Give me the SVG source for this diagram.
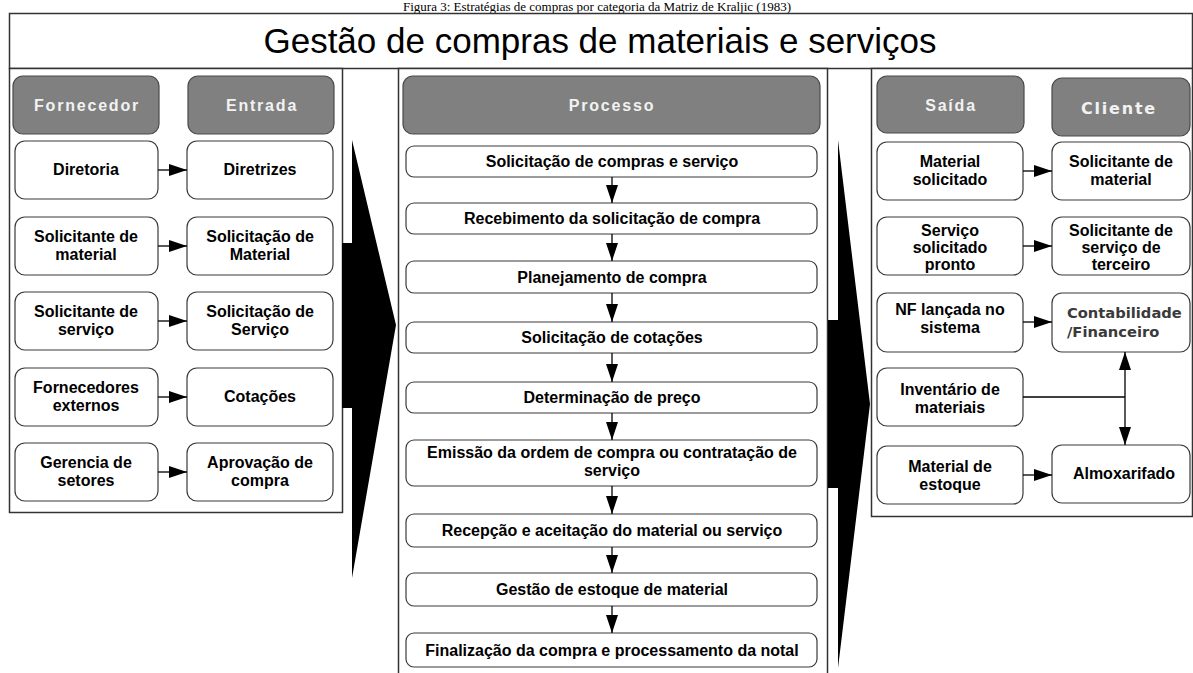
<svg xmlns="http://www.w3.org/2000/svg" width="1193" height="673" viewBox="0 0 1193 673">
<style>
.panel{fill:#fff;stroke:#333;stroke-width:1.5}
.hdr{fill:#808080;stroke:#4a4a4a;stroke-width:1.2}
.box{fill:#fff;stroke:#3a3a3a;stroke-width:1.2}
.t{font-family:"Liberation Sans",Arial,sans-serif;font-weight:bold;font-size:16px;fill:#000;text-anchor:middle}
.ht{font-family:"Liberation Sans",Arial,sans-serif;font-weight:bold;font-size:16px;fill:#f2f2f2;letter-spacing:1.8px;text-anchor:middle}
.vt{font-family:"DejaVu Sans",Verdana,sans-serif;font-weight:bold}
.ln{stroke:#000;stroke-width:1.3;fill:none}
.big{fill:#000}
</style>
<defs>
<marker id="ah" markerUnits="userSpaceOnUse" markerWidth="18" markerHeight="12" refX="18" refY="6" orient="auto">
<path d="M0,0 L18,6 L0,12 z" fill="#000"/>
</marker>
</defs>
<rect width="1193" height="673" fill="#fff"/>
<text x="597" y="11" font-family="Liberation Serif,Times New Roman,serif" font-size="13" text-anchor="middle" fill="#000">Figura 3: Estratégias de compras por categoria da Matriz de Kraljic (1983)</text>
<g id="title">
<rect x="9.5" y="13.5" width="1183" height="55" fill="#fff" stroke="#333" stroke-width="1.5"/>
<text x="600" y="53" font-family="Liberation Sans,Arial,sans-serif" font-size="35" text-anchor="middle" fill="#000">Gestão de compras de materiais e serviços</text>
</g>
<rect class="panel" x="9.5" y="68.5" width="333" height="444"/>
<rect class="panel" x="398.5" y="68.5" width="429" height="620"/>
<rect class="panel" x="871.5" y="68.5" width="321" height="448"/>
<g id="bigarrows">
<polygon class="big" points="342,243 352,243 352,140 396,325 352,578 352,408 342,408"/>
<polygon class="big" points="828,320 838,320 838,140 870,404 838,668 838,488 828,488"/>
</g>
<g id="h-fornecedor"><rect class="hdr" x="13" y="76" width="146" height="58" rx="10"/><text class="ht" x="87" y="111">Fornecedor</text></g>
<g id="h-entrada"><rect class="hdr" x="188" y="76" width="146" height="58" rx="10"/><text class="ht" x="262" y="111">Entrada</text></g>
<g id="h-processo"><rect class="hdr" x="403" y="76" width="417" height="58" rx="10"/><text class="ht" x="612" y="111">Processo</text></g>
<g id="h-saida"><rect class="hdr" x="877" y="76" width="147" height="57" rx="10"/><text class="ht" x="951" y="111">Saída</text></g>
<g id="h-cliente"><rect class="hdr" x="1052" y="78" width="138" height="58" rx="10"/><text class="ht vt" x="1119" y="114" font-size="16" letter-spacing="2.5">Cliente</text></g>

<g id="f1"><rect class="box" x="15" y="141" width="143" height="58" rx="10"/><text class="t" x="86" y="175">Diretoria</text></g>
<g id="e1"><rect class="box" x="187" y="141" width="146" height="58" rx="10"/><text class="t" x="260" y="175">Diretrizes</text></g>
<g id="f2"><rect class="box" x="15" y="217" width="143" height="58" rx="10"/><text class="t" x="86" y="242">Solicitante de</text><text class="t" x="86" y="260">material</text></g>
<g id="e2"><rect class="box" x="187" y="217" width="146" height="58" rx="10"/><text class="t" x="260" y="242">Solicitação de</text><text class="t" x="260" y="260">Material</text></g>
<g id="f3"><rect class="box" x="15" y="292" width="143" height="58" rx="10"/><text class="t" x="86" y="317">Solicitante de</text><text class="t" x="86" y="335">serviço</text></g>
<g id="e3"><rect class="box" x="187" y="292" width="146" height="58" rx="10"/><text class="t" x="260" y="317">Solicitação de</text><text class="t" x="260" y="335">Serviço</text></g>
<g id="f4"><rect class="box" x="15" y="368" width="143" height="58" rx="10"/><text class="t" x="86" y="393">Fornecedores</text><text class="t" x="86" y="411">externos</text></g>
<g id="e4"><rect class="box" x="187" y="368" width="146" height="58" rx="10"/><text class="t" x="260" y="402">Cotações</text></g>
<g id="f5"><rect class="box" x="15" y="443" width="143" height="58" rx="10"/><text class="t" x="86" y="468">Gerencia de</text><text class="t" x="86" y="486">setores</text></g>
<g id="e5"><rect class="box" x="187" y="443" width="146" height="58" rx="10"/><text class="t" x="260" y="468">Aprovação de</text><text class="t" x="260" y="486">compra</text></g>

<g id="p1"><rect class="box" x="406" y="146" width="411" height="31" rx="8"/><text class="t" x="612" y="167">Solicitação de compras e serviço</text></g>
<g id="p2"><rect class="box" x="406" y="203" width="411" height="31" rx="8"/><text class="t" x="612" y="224">Recebimento da solicitação de compra</text></g>
<g id="p3"><rect class="box" x="406" y="261" width="411" height="32" rx="8"/><text class="t" x="612" y="283">Planejamento de compra</text></g>
<g id="p4"><rect class="box" x="406" y="322" width="411" height="31" rx="8"/><text class="t" x="612" y="343">Solicitação de cotações</text></g>
<g id="p5"><rect class="box" x="406" y="382" width="411" height="31" rx="8"/><text class="t" x="612" y="403">Determinação de preço</text></g>
<g id="p6"><rect class="box" x="406" y="440" width="411" height="46" rx="8"/><text class="t" x="612" y="458">Emissão da ordem de compra ou contratação de</text><text class="t" x="612" y="476">serviço</text></g>
<g id="p7"><rect class="box" x="406" y="514" width="411" height="33" rx="8"/><text class="t" x="612" y="536">Recepção e aceitação do material ou serviço</text></g>
<g id="p8"><rect class="box" x="406" y="573" width="411" height="33" rx="8"/><text class="t" x="612" y="595">Gestão de estoque de material</text></g>
<g id="p9"><rect class="box" x="406" y="633" width="411" height="34" rx="8"/><text class="t" x="612" y="656">Finalização da compra e processamento da notal</text></g>

<g id="s1"><rect class="box" x="877" y="142" width="146" height="58" rx="10"/><text class="t" x="950" y="167">Material</text><text class="t" x="950" y="185">solicitado</text></g>
<g id="c1"><rect class="box" x="1052" y="142" width="138" height="58" rx="10"/><text class="t" x="1121" y="167">Solicitante de</text><text class="t" x="1121" y="185">material</text></g>
<g id="s2"><rect class="box" x="877" y="217" width="146" height="58" rx="10"/><text class="t" x="950" y="236">Serviço</text><text class="t" x="950" y="253">solicitado</text><text class="t" x="950" y="270">pronto</text></g>
<g id="c2"><rect class="box" x="1052" y="217" width="138" height="58" rx="10"/><text class="t" x="1121" y="236">Solicitante de</text><text class="t" x="1121" y="253">serviço de</text><text class="t" x="1121" y="270">terceiro</text></g>
<g id="s3"><rect class="box" x="877" y="293" width="146" height="59" rx="10"/><text class="t" x="950" y="315">NF lançada no</text><text class="t" x="950" y="333">sistema</text></g>
<g id="c3"><rect class="box" x="1052" y="293" width="138" height="59" rx="10"/><text class="vt" x="1067" y="318" font-size="14.7" fill="#3a3a3a">Contabilidade</text><text class="vt" x="1067" y="337" font-size="14.7" fill="#3a3a3a">/Financeiro</text></g>
<g id="s4"><rect class="box" x="877" y="368" width="146" height="58" rx="10"/><text class="t" x="950" y="395">Inventário de</text><text class="t" x="950" y="413">materiais</text></g>
<g id="s5"><rect class="box" x="877" y="446" width="146" height="58" rx="10"/><text class="t" x="950" y="472">Material de</text><text class="t" x="950" y="490">estoque</text></g>
<g id="c5"><rect class="box" x="1052" y="445" width="138" height="58" rx="10"/><text class="t" x="1124" y="479">Almoxarifado</text></g>

<g id="connectors">
<line class="ln" x1="158" y1="170" x2="187" y2="170" marker-end="url(#ah)"/>
<line class="ln" x1="158" y1="246" x2="187" y2="246" marker-end="url(#ah)"/>
<line class="ln" x1="158" y1="321" x2="187" y2="321" marker-end="url(#ah)"/>
<line class="ln" x1="158" y1="397" x2="187" y2="397" marker-end="url(#ah)"/>
<line class="ln" x1="158" y1="472" x2="187" y2="472" marker-end="url(#ah)"/>
<line class="ln" x1="612" y1="177" x2="612" y2="203" marker-end="url(#ah)"/>
<line class="ln" x1="612" y1="234" x2="612" y2="261" marker-end="url(#ah)"/>
<line class="ln" x1="612" y1="293" x2="612" y2="322" marker-end="url(#ah)"/>
<line class="ln" x1="612" y1="353" x2="612" y2="382" marker-end="url(#ah)"/>
<line class="ln" x1="612" y1="413" x2="612" y2="440" marker-end="url(#ah)"/>
<line class="ln" x1="612" y1="486" x2="612" y2="514" marker-end="url(#ah)"/>
<line class="ln" x1="612" y1="547" x2="612" y2="573" marker-end="url(#ah)"/>
<line class="ln" x1="612" y1="606" x2="612" y2="633" marker-end="url(#ah)"/>
<line class="ln" x1="1023" y1="171" x2="1052" y2="171" marker-end="url(#ah)"/>
<line class="ln" x1="1023" y1="246" x2="1052" y2="246" marker-end="url(#ah)"/>
<line class="ln" x1="1023" y1="322" x2="1052" y2="322" marker-end="url(#ah)"/>
<line class="ln" x1="1023" y1="475" x2="1052" y2="475" marker-end="url(#ah)"/>
<polyline class="ln" points="1023,397 1125,397"/>
<line class="ln" x1="1125" y1="397" x2="1125" y2="352" marker-end="url(#ah)"/>
<line class="ln" x1="1125" y1="397" x2="1125" y2="445" marker-end="url(#ah)"/>
</g>
</svg>
